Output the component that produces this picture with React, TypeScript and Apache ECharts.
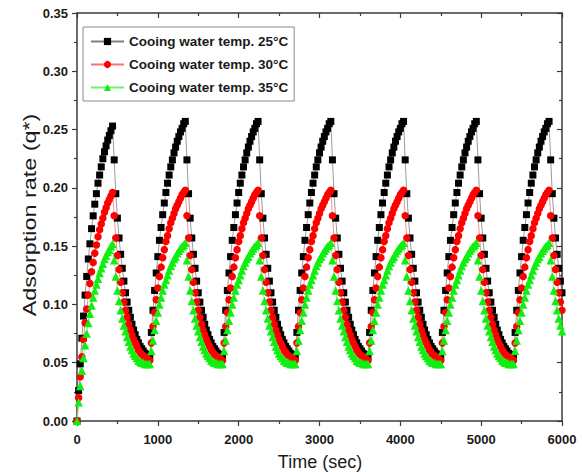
import React, { useEffect, useRef } from "react";
import * as echarts from "echarts";

// time grid (s) and cycle starts
const STEP = 20;
const cycleStarts = [0, 900, 1800, 2700, 3600, 4500, 5400];
const decayStart = 460;
const endTime = 6000;

const xTicks = [0, 1000, 2000, 3000, 4000, 5000, 6000];
const yTicks = [0, 0.05, 0.1, 0.15, 0.2, 0.25, 0.3, 0.35];

const seriesNames = [
  "Cooing water temp. 25°C",
  "Cooing water temp. 30°C",
  "Cooing water temp. 35°C",
];

// 25°C (black)
const blackFirstRise = [0, 0.026, 0.049, 0.071, 0.09, 0.108, 0.124, 0.139, 0.152, 0.165, 0.176, 0.186, 0.195, 0.204, 0.211, 0.218, 0.225, 0.231, 0.236, 0.241, 0.245, 0.249, 0.253];
const blackRise = [0.055, 0.076, 0.095, 0.112, 0.127, 0.141, 0.155, 0.166, 0.177, 0.187, 0.196, 0.204, 0.211, 0.218, 0.224, 0.23, 0.235, 0.24, 0.244, 0.248, 0.251, 0.255, 0.257];
const blackDecay = [0.224, 0.195, 0.174, 0.157, 0.143, 0.131, 0.12, 0.11, 0.102, 0.095, 0.089, 0.083, 0.078, 0.074, 0.07, 0.067, 0.064, 0.062, 0.06, 0.058, 0.057, 0.056];

// 30°C (red)
const redFirstRise = [0, 0.02, 0.038, 0.055, 0.07, 0.084, 0.096, 0.108, 0.118, 0.128, 0.136, 0.144, 0.151, 0.158, 0.164, 0.169, 0.174, 0.179, 0.183, 0.187, 0.19, 0.193, 0.196];
const redRise = [0.052, 0.067, 0.081, 0.093, 0.104, 0.114, 0.124, 0.132, 0.14, 0.147, 0.154, 0.159, 0.165, 0.17, 0.174, 0.178, 0.182, 0.185, 0.188, 0.191, 0.194, 0.196, 0.198];
const redDecay = [0.176, 0.157, 0.142, 0.13, 0.119, 0.11, 0.102, 0.095, 0.089, 0.083, 0.078, 0.074, 0.07, 0.067, 0.064, 0.061, 0.059, 0.057, 0.056, 0.055, 0.054, 0.053];

// 35°C (green)
const greenFirstRise = [0, 0.016, 0.03, 0.043, 0.054, 0.065, 0.075, 0.084, 0.092, 0.099, 0.106, 0.112, 0.117, 0.122, 0.127, 0.131, 0.135, 0.139, 0.142, 0.145, 0.147, 0.15, 0.152];
const greenRise = [0.049, 0.06, 0.069, 0.078, 0.086, 0.093, 0.1, 0.106, 0.112, 0.117, 0.121, 0.125, 0.129, 0.133, 0.136, 0.139, 0.141, 0.144, 0.146, 0.148, 0.15, 0.151, 0.153];
const greenDecay = [0.138, 0.124, 0.112, 0.103, 0.095, 0.088, 0.082, 0.077, 0.072, 0.068, 0.064, 0.061, 0.058, 0.056, 0.054, 0.052, 0.051, 0.05, 0.05, 0.049, 0.049, 0.049];

function buildSeries(firstRise: number[], rise: number[], decay: number[]) {
  const pts: number[][] = [];
  cycleStarts.forEach((s, c) => {
    const r = c === 0 ? firstRise : rise;
    r.forEach((v, i) => {
      const t = s + i * STEP;
      if (t <= endTime) pts.push([t, v]);
    });
    decay.forEach((v, i) => {
      const t = s + decayStart + i * STEP;
      if (t <= endTime) pts.push([t, v]);
    });
  });
  return pts;
}

const FONT = "'Liberation Sans', Arial, sans-serif";

export default function App() {
  const ref = useRef<HTMLDivElement>(null);
  useEffect(() => {
    if (!ref.current) return;
    const chart = echarts.init(ref.current, undefined, { renderer: "svg" });
    const axisColor = "#3a3a3a";
    const labelStyle = { color: "#1a1a1a", fontSize: 13, fontWeight: "bold" as const, fontFamily: FONT };
    chart.setOption({
      animation: false,
      backgroundColor: "#ffffff",
      grid: { left: 77, right: 20, top: 13, bottom: 51 },
      legend: {
        orient: "vertical",
        left: 83,
        top: 27,
        padding: [7, 6, 6, 7],
        itemGap: 8,
        itemWidth: 33,
        itemHeight: 9,
        borderColor: "#8a8a8a",
        borderWidth: 1,
        backgroundColor: "#ffffff",
        textStyle: { color: "#1a1a1a", fontSize: 13.5, fontWeight: "bold", fontFamily: FONT, lineHeight: 15 },
        data: seriesNames,
      },
      xAxis: [
        {
          type: "value",
          min: xTicks[0],
          max: xTicks[xTicks.length - 1],
          interval: 1000,
          axisLine: { show: true, onZero: false, lineStyle: { color: axisColor, width: 1.5 } },
          axisTick: { show: true, length: 5, lineStyle: { color: axisColor, width: 1.2 } },
          minorTick: { show: true, splitNumber: 2, length: 3, lineStyle: { color: axisColor, width: 1.2 } },
          splitLine: { show: false },
          axisLabel: { ...labelStyle, margin: 12, formatter: (v: number) => String(v) },
        },
        {
          type: "value",
          position: "top",
          min: xTicks[0],
          max: xTicks[xTicks.length - 1],
          interval: 1000,
          axisLine: { show: true, onZero: false, lineStyle: { color: axisColor, width: 1.5 } },
          axisTick: { show: true, inside: true, length: 5, lineStyle: { color: axisColor, width: 1.2 } },
          minorTick: { show: true, splitNumber: 2, length: 3, lineStyle: { color: axisColor, width: 1.2 } },
          splitLine: { show: false },
          axisLabel: { show: false },
        },
      ],
      yAxis: [
        {
          type: "value",
          min: yTicks[0],
          max: yTicks[yTicks.length - 1],
          interval: 0.05,
          axisLine: { show: true, onZero: false, lineStyle: { color: axisColor, width: 1.5 } },
          axisTick: { show: true, length: 5, lineStyle: { color: axisColor, width: 1.2 } },
          minorTick: { show: true, splitNumber: 2, length: 3, lineStyle: { color: axisColor, width: 1.2 } },
          splitLine: { show: false },
          axisLabel: { ...labelStyle, margin: 9, formatter: (v: number) => v.toFixed(2) },
        },
        {
          type: "value",
          position: "right",
          min: yTicks[0],
          max: yTicks[yTicks.length - 1],
          interval: 0.05,
          axisLine: { show: true, onZero: false, lineStyle: { color: axisColor, width: 1.5 } },
          axisTick: { show: true, inside: true, length: 5, lineStyle: { color: axisColor, width: 1.2 } },
          minorTick: { show: true, splitNumber: 2, length: 3, lineStyle: { color: axisColor, width: 1.2 } },
          splitLine: { show: false },
          axisLabel: { show: false },
        },
      ],
      series: [
        {
          name: seriesNames[0],
          type: "line",
          data: buildSeries(blackFirstRise, blackRise, blackDecay),
          symbol: "rect",
          symbolSize: 7,
          showAllSymbol: true,
          itemStyle: { color: "#000000" },
          lineStyle: { color: "#808080", width: 0.8 },
        },
        {
          name: seriesNames[1],
          type: "line",
          data: buildSeries(redFirstRise, redRise, redDecay),
          symbol: "circle",
          symbolSize: 7.5,
          showAllSymbol: true,
          itemStyle: { color: "#ff0000" },
          lineStyle: { color: "#ff7070", width: 0.8 },
        },
        {
          name: seriesNames[2],
          type: "line",
          data: buildSeries(greenFirstRise, greenRise, greenDecay),
          symbol: "triangle",
          symbolSize: 8.5,
          showAllSymbol: true,
          itemStyle: { color: "#11ee11" },
          lineStyle: { color: "#70f070", width: 0.8 },
        },
      ],
      graphic: [
        {
          type: "text",
          x: 30,
          y: 215,
          rotation: Math.PI / 2,
          scaleX: 1.3,
          style: {
            text: "Adsorption rate (q*)",
            font: `18px ${FONT}`,
            fill: "#1a1a1a",
            textAlign: "center",
            textVerticalAlign: "middle",
          },
        },
        {
          type: "text",
          x: 320,
          y: 462,
          style: {
            text: "Time (sec)",
            font: `18px ${FONT}`,
            fill: "#1a1a1a",
            textAlign: "center",
            textVerticalAlign: "middle",
          },
        },
      ],
    });
    return () => chart.dispose();
  }, []);
  return <div ref={ref} style={{ width: 582, height: 472, position: "absolute", left: 0, top: 0 }} />;
}
